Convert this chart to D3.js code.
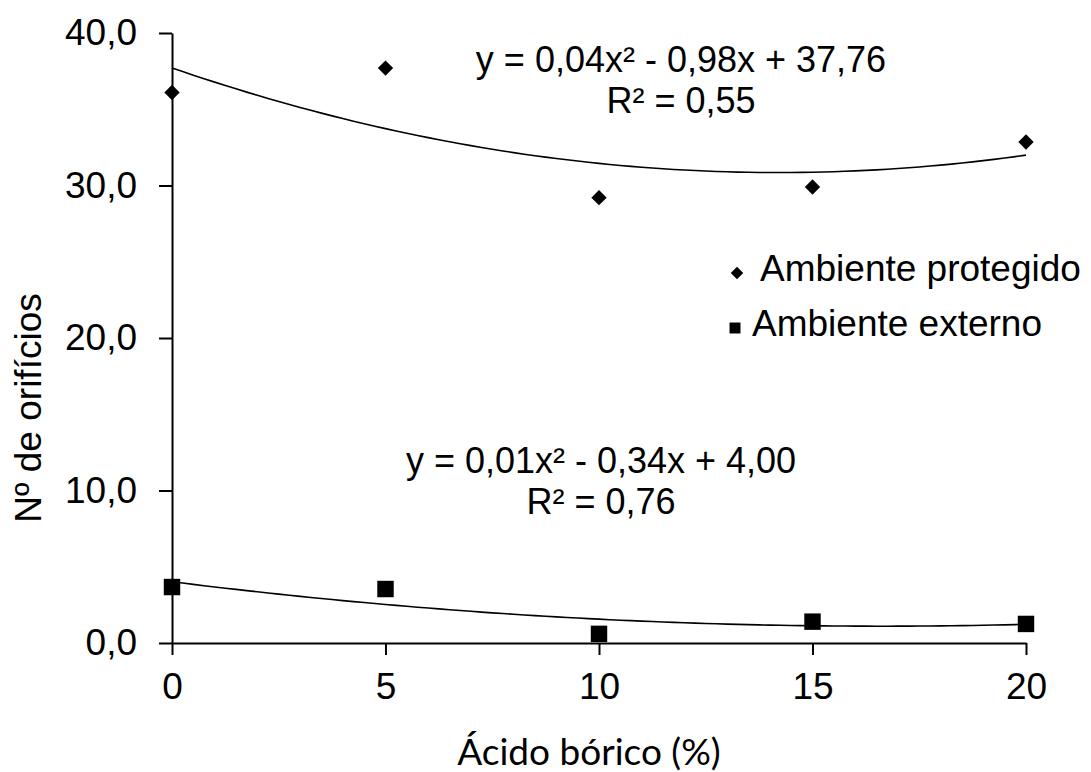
<!DOCTYPE html>
<html>
<head>
<meta charset="utf-8">
<script src="https://cdn.jsdelivr.net/npm/d3@7"></script>
<style>
  body { margin: 0; background: #fff; }
  text { font-family: "Liberation Sans", Arial, sans-serif; fill: #000; }
</style>
</head>
<body>
<svg id="chart" width="1091" height="772"></svg>
<script>
const svg = d3.select('#chart');

// data
const doses = [0, 5, 10, 15, 20];
const protegido = [36.1, 37.7, 29.2, 29.9, 32.85];
const externo = [3.67, 3.54, 0.6, 1.4, 1.25];
const yTicks = [0, 10, 20, 30, 40];
const xTicks = [0, 5, 10, 15, 20];
const seriesNames = ['Ambiente protegido', 'Ambiente externo'];
const eqProtegido = ['y = 0,04x² - 0,98x + 37,76', 'R² = 0,55'];
const eqExterno = ['y = 0,01x² - 0,34x + 4,00', 'R² = 0,76'];

const x = d3.scaleLinear().domain([0, 20]).range([172, 1026]);
const y = d3.scaleLinear().domain([0, 40]).range([643, 33]);

// least squares 2nd order polynomial, like the spreadsheet trendline
function quadFit(xs, ys) {
    let s = [0, 0, 0, 0, 0], t = [0, 0, 0];
    xs.forEach((xi, i) => {
        for (let k = 0; k < 5; k++) s[k] += xi ** k;
        for (let k = 0; k < 3; k++) t[k] += ys[i] * xi ** k;
    });
    let m = [[s[0], s[1], s[2], t[0]], [s[1], s[2], s[3], t[1]], [s[2], s[3], s[4], t[2]]];
    for (let i = 0; i < 3; i++) {
        for (let j = i + 1; j < 3; j++) {
            let f = m[j][i] / m[i][i];
            for (let k = i; k < 4; k++) m[j][k] -= f * m[i][k];
        }
    }
    let c = [0, 0, 0];
    for (let i = 2; i >= 0; i--) {
        let v = m[i][3];
        for (let k = i + 1; k < 3; k++) v -= m[i][k] * c[k];
        c[i] = v / m[i][i];
    }
    return c;
}

const line = d3.line().x(d => x(d[0])).y(d => y(d[1]));

function trend(ys) {
    let c = quadFit(doses, ys);
    let pts = d3.range(0, 20.01, 0.25).map(v => [v, c[0] + c[1] * v + c[2] * v * v]);
    svg.append('path')
        .attr('d', line(pts))
        .attr('fill', 'none')
        .attr('stroke', '#000')
        .attr('stroke-width', 1.6);
}

// axes
const yAxis = d3.axisLeft(y).tickValues(yTicks).tickSize(13).tickSizeOuter(0).tickPadding(22)
    .tickFormat(d => d3.format('.1f')(d).replace('.', ','));
const xAxis = d3.axisBottom(x).tickValues(xTicks).tickSize(12).tickSizeOuter(0).tickPadding(18);

const gy = svg.append('g').attr('transform', 'translate(172,0)').call(yAxis);
const gx = svg.append('g').attr('transform', 'translate(0,643)').call(xAxis);

[gx, gy].forEach(g => {
    g.selectAll('path, line').attr('stroke', '#000').attr('stroke-width', 2);
    g.selectAll('text').style('font-size', '37px').attr('fill', '#000');
});

trend(protegido);
trend(externo);

const diamond = d3.symbol().type(d3.symbolDiamond2);
const square = d3.symbol().type(d3.symbolSquare);

svg.selectAll('.prot')
    .data(doses)
    .enter()
    .append('path')
    .attr('class', 'prot')
    .attr('d', diamond.size(150)())
    .attr('transform', (d, i) => `translate(${x(d)},${y(protegido[i])})`)
    .attr('fill', '#000');

svg.selectAll('.ext')
    .data(doses)
    .enter()
    .append('path')
    .attr('class', 'ext')
    .attr('d', square.size(270)())
    .attr('transform', (d, i) => `translate(${x(d)},${y(externo[i])})`)
    .attr('fill', '#000');

// equations
function equation(lines, cx, y0) {
    lines.forEach((t, i) => {
        svg.append('text')
            .attr('x', cx)
            .attr('y', y0 + i * 41)
            .attr('text-anchor', 'middle')
            .style('font-size', '36px')
            .text(t);
    });
}
equation(eqProtegido, 681, 72);
equation(eqExterno, 601, 473);

// legend
svg.append('path').attr('d', diamond.size(100)()).attr('transform', 'translate(737,273)').attr('fill', '#000');
svg.append('text').attr('x', 760).attr('y', 281).style('font-size', '37px').text(seriesNames[0]);
svg.append('path').attr('d', square.size(120)()).attr('transform', 'translate(735,328)').attr('fill', '#000');
svg.append('text').attr('x', 752).attr('y', 336).style('font-size', '37px').text(seriesNames[1]);

// axis titles
svg.append('text')
    .attr('x', 589).attr('y', 765)
    .attr('text-anchor', 'middle')
    .style('font-family', 'Lato, sans-serif')
    .style('font-size', '37px')
    .text('Ácido bórico (%)');

svg.append('text')
    .attr('transform', 'translate(41,408) rotate(-90)')
    .attr('text-anchor', 'middle')
    .style('font-size', '37px')
    .text('Nº de orifícios');
</script>
</body>
</html>
